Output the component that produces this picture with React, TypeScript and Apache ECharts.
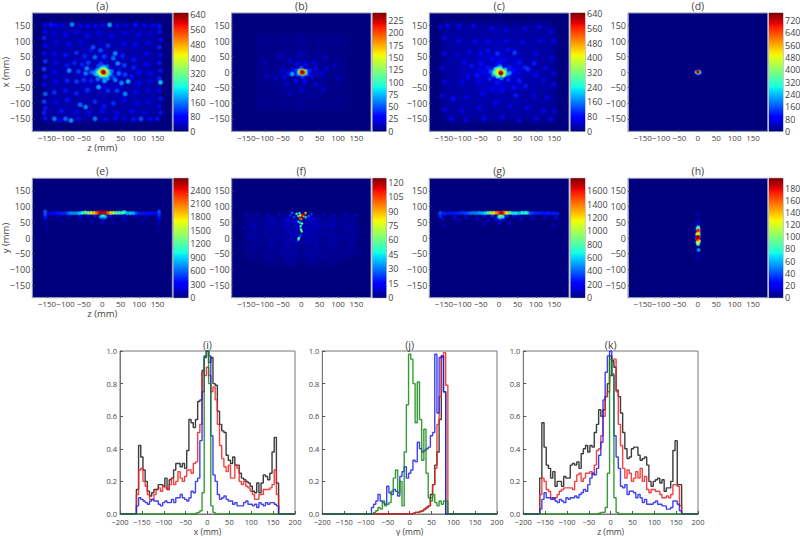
import React, { useEffect, useRef } from "react";
import * as echarts from "echarts";

type Cell = [number, number, number];

const posTicks = [-150, -100, -50, 0, 50, 100, 150];
const histXTicks = [-200, -150, -100, -50, 0, 50, 100, 150, 200];
const histYTicks = [0, 0.2, 0.4, 0.6, 0.8, 1.0];

const barTicksA = [0, 80, 160, 240, 320, 400, 480, 560, 640];
const barTicksB = [0, 25, 50, 75, 100, 125, 150, 175, 200, 225];
const barTicksC = [0, 80, 160, 240, 320, 400, 480, 560, 640];
const barTicksD = [0, 80, 160, 240, 320, 400, 480, 560, 640, 720];
const barTicksE = [0, 300, 600, 900, 1200, 1500, 1800, 2100, 2400];
const barTicksF = [0, 15, 30, 45, 60, 75, 90, 105, 120];
const barTicksG = [0, 200, 400, 600, 800, 1000, 1200, 1400, 1600];
const barTicksH = [0, 20, 40, 60, 80, 100, 120, 140, 160, 180];

const floorA: Cell[] = [
  [-130,130,22],[-90,130,26],[-45,130,24],[0,130,26],[45,130,24],[90,130,26],[130,130,22],
  [-130,90,24],[-90,90,26],[-45,90,28],[0,90,32],[45,90,28],[90,90,26],[130,90,24],
  [-130,45,24],[-90,45,28],[-45,45,32],[0,45,38],[45,45,34],[90,45,28],[130,45,24],
  [-130,0,26],[-90,0,30],[-45,0,40],[0,0,56],[45,0,42],[90,0,30],[130,0,26],
  [-130,-45,24],[-90,-45,28],[-45,-45,34],[0,-45,38],[45,-45,36],[90,-45,28],[130,-45,24],
  [-130,-90,24],[-90,-90,26],[-45,-90,28],[0,-90,30],[45,-90,28],[90,-90,26],[130,-90,24],
  [-130,-130,22],[-90,-130,26],[-45,-130,24],[0,-130,24],[45,-130,24],[90,-130,24],[130,-130,22],
];
const cellsA: Cell[] = [
  [3,0,640],[0,2,500],[6,-2,500],[-2,-3,420],[8,3,400],[3,6,400],[3,-7,380],[-6,2,340],[12,0,330],[-10,-2,290],
  [7,10,270],[-3,10,240],[10,-10,270],[-5,-10,250],[16,4,220],[-14,5,200],[18,-6,220],[-16,-7,200],[3,16,200],[2,-16,190],
  [-22,-2,170],[25,2,150],[12,18,150],[-10,18,130],[14,-20,180],[-12,-22,150],[-30,0,130],[-4,26,120],[6,-28,190],[28,-14,120],
  [-155,150,80],[-140,152,90],[-125,150,70],[-108,150,60],[-82,153,170],[-60,150,70],[-40,148,60],[-20,150,80],[0,150,60],[20,152,190],[40,150,70],[65,150,60],[90,152,90],[115,150,70],[140,150,80],[155,148,90],
  [-155,-148,90],[-130,-150,160],[-115,-155,80],[-100,-150,150],[-85,-155,180],[-65,-150,80],[-20,-150,160],[10,-152,70],[35,-148,80],[60,-150,60],[85,-152,90],[105,-150,130],[130,-150,80],[150,-150,90],
  [-155,130,80],[-158,110,100],[-155,85,70],[-158,60,80],[-155,35,110],[-158,10,120],[-155,-15,90],[-158,-40,80],[-155,-70,140],[-158,-95,120],[-155,-115,90],[-158,-130,100],
  [155,130,90],[158,105,80],[155,80,100],[158,55,80],[155,30,90],[158,5,90],[155,-20,100],[158,-33,210],[155,-60,80],[158,-85,90],[155,-110,80],[158,-130,90],
  [-130,125,55],[-100,120,70],[-70,128,60],[-40,118,80],[-10,125,60],[25,118,70],[60,125,60],[100,120,70],[130,125,55],
  [-125,95,60],[-90,90,80],[-60,95,55],[-25,80,130],[-5,70,130],[-30,70,90],[15,85,110],[35,60,170],[60,90,70],[90,88,80],[125,95,60],
  [-130,60,70],[-100,55,90],[-70,62,110],[-48,50,100],[-20,48,150],[5,50,120],[30,45,150],[55,52,100],[85,40,90],[120,60,70],
  [-125,30,80],[-95,22,90],[-75,30,100],[-55,25,100],[-38,30,120],[42,28,170],[60,22,120],[85,15,100],[120,25,70],
  [-130,0,80],[-90,5,170],[-65,2,120],[-45,-4,160],[-42,12,170],[45,-4,150],[62,-8,120],[80,-15,90],[100,0,80],[130,-5,70],
  [-125,-30,70],[-95,-28,100],[-70,-30,120],[-50,-25,110],[-30,-28,100],[35,-25,160],[52,-35,170],[70,-30,200],[100,-35,80],[130,-30,60],
  [-130,-65,110],[-100,-60,90],[-70,-68,100],[-40,-58,110],[-10,-48,190],[15,-60,110],[40,-60,120],[62,-70,170],[90,-65,80],[125,-60,60],
  [-125,-95,80],[-95,-90,90],[-60,-105,150],[-45,-112,170],[-20,-95,110],[5,-110,90],[30,-100,110],[60,-90,80],[95,-100,70],[125,-95,60],
  [-110,-125,90],[-70,-128,70],[-35,-130,80],[0,-125,70],[40,-130,60],[80,-125,70],[115,-130,60],
];

const floorB: Cell[] = [
  [-100,100,3],[-50,100,3],[0,100,4],[50,100,3],[100,100,3],
  [-100,50,3],[-50,50,5],[0,50,7],[50,50,5],[100,50,3],
  [-100,0,4],[-50,0,7],[0,0,14],[50,0,7],[100,0,4],
  [-100,-50,3],[-50,-50,5],[0,-50,7],[50,-50,5],[100,-50,3],
  [-100,-100,3],[-50,-100,3],[0,-100,4],[50,-100,3],[100,-100,3],
];
const cellsB: Cell[] = [
  [2,0,235],[6,-2,195],[-2,-1,170],[2,3,150],[8,2,135],[-4,3,105],[3,-5,110],[10,-3,90],[-6,-3,75],[-25,-6,70],[14,4,55],[-12,5,45],[-10,-8,40],[16,-8,40],[0,12,50],[3,-14,40],
  [-24,8,26],[25,5,32],[30,-12,26],[-35,-4,28],[-45,-15,22],[-50,5,20],[40,10,24],[55,-5,20],[15,25,26],[-10,28,24],[10,-30,28],[-15,-28,26],[-70,-20,18],[70,12,18],
  [-30,35,18],[35,30,22],[-40,-38,16],[38,-38,20],[60,-55,16],[-60,50,15],[65,45,14],[-5,55,14],[0,-60,16],[30,-75,14],[-30,-70,14],[90,20,13],[-95,-15,14],[100,-20,12],[-100,30,12],
];

const floorC: Cell[] = [
  [-130,130,20],[-90,130,22],[-45,130,22],[0,130,24],[45,130,22],[90,130,22],[130,130,20],
  [-130,90,22],[-90,90,24],[-45,90,28],[0,90,32],[45,90,28],[90,90,24],[130,90,22],
  [-130,45,22],[-90,45,28],[-45,45,38],[0,45,46],[45,45,40],[90,45,28],[130,45,22],
  [-130,0,22],[-90,0,32],[-45,0,52],[0,0,76],[45,0,54],[90,0,32],[130,0,22],
  [-130,-45,22],[-90,-45,28],[-45,-45,38],[0,-45,48],[45,-45,40],[90,-45,28],[130,-45,22],
  [-130,-90,22],[-90,-90,24],[-45,-90,28],[0,-90,30],[45,-90,28],[90,-90,24],[130,-90,20],
  [-130,-130,20],[-90,-130,22],[-45,-130,24],[0,-130,22],[45,-130,22],[90,-130,22],[130,-130,20],
];
const cellsC: Cell[] = [
  [5,-3,640],[3,0,480],[8,2,420],[-3,3,380],[10,-6,390],[-6,-4,350],[0,-8,340],[14,0,310],[-12,0,290],[4,10,290],[-4,10,270],[12,-10,280],[-4,-13,250],[16,7,210],[-10,9,210],[-15,-8,190],[20,-6,200],[2,17,170],[6,-18,170],[-22,2,140],[28,-3,170],
  [-30,15,90],[28,16,95],[-25,-22,100],[25,-24,105],[-38,0,80],[40,5,85],[0,30,85],[-6,-32,90],[15,40,80],[-20,42,80],[42,62,120],[-5,60,110],[-30,68,85],[25,72,85],[-50,28,85],[55,30,90],[70,15,100],[78,10,110],[95,28,95],[-60,-10,90],[-55,-30,75],[55,-28,95],[72,-45,90],[40,-50,85],[-20,-55,80],[8,-60,75],[45,-75,95],[-45,-70,75],[-75,20,90],[-95,30,80],[-85,-15,70],[-100,-30,65],[100,-10,70],[120,-25,60],[125,15,60],
  [-160,145,55],[-140,150,70],[-110,150,80],[-70,148,65],[-20,140,70],[20,135,60],[70,140,55],[110,145,70],[140,130,60],[-150,110,60],[-110,100,65],[-65,100,65],[-30,95,70],[20,100,80],[65,95,65],[110,100,60],[150,100,60],
  [-150,60,60],[-115,55,55],[-80,65,65],[-50,60,75],[100,60,70],[145,45,55],[-155,15,55],[150,-5,55],[-150,-30,60],[150,-40,60],[-155,-75,60],[-125,-85,85],[-90,-80,60],[95,-75,60],[130,-80,60],[-150,-120,60],[-100,-125,65],[-55,-115,65],[-10,-100,70],[30,-110,65],[75,-115,70],[120,-125,60],[150,-125,55],[-130,-150,65],[-90,-155,60],[-40,-150,70],[10,-145,65],[55,-155,60],[100,-150,60],[140,-152,60],
];

const cellsD: Cell[] = [
  [0,1,770],[3,1,520],[-3,0,430],[1,-3,260],[6,-2,170],[-5,2,90],[2,5,80],[-2,-6,70],[10,-2,50],[-9,-1,40],
];

const cellsE: Cell[] = [
  [0,81,2600],[-7,81,2450],[7,81,2500],[14,80,2150],[-14,80,2150],[-22,80,1850],[22,80,1800],[-30,80,1550],[30,80,1500],[-38,80,1350],[38,80,1200],[-46,81,1250],[46,80,1150],[-54,80,1000],[54,80,1050],[-62,79,850],[60,82,1050],[68,79,800],[76,79,850],[84,79,800],[92,79,500],[-70,79,700],[-78,79,700],[-86,79,700],[-94,79,550],
  [2,72,1000],[-4,68,800],[8,68,800],[3,64,500],[-20,72,400],[22,72,380],[-40,72,250],[40,72,240],
  [-102,79,420],[-110,78,400],[-118,79,380],[-126,79,360],[-134,79,340],[-142,78,320],[102,78,400],[110,78,380],[118,79,360],[126,79,370],[134,78,350],[142,78,330],
  [-155,84,560],[-155,76,520],[-155,68,380],[-155,60,240],[154,84,520],[154,76,480],[154,68,360],[154,60,230],[-150,45,120],[150,45,120],[-150,25,70],[150,25,70],
  [-120,70,170],[-90,70,190],[-60,68,190],[60,68,190],[90,70,190],[120,70,170],[-60,55,130],[0,52,170],[60,55,120],[-110,55,100],[110,55,100],[-30,50,120],[30,50,120],
];

const floorF: Cell[] = [
  [-130,45,3],[-80,45,4],[-30,45,6],[30,45,6],[80,45,4],[130,45,3],
  [-130,5,3],[-80,5,3],[-30,5,5],[30,5,5],[80,5,3],[130,5,3],
  [-130,-35,2],[-80,-35,3],[-30,-35,4],[30,-35,4],[80,-35,3],[130,-35,2],
  [-80,-60,2],[-30,-60,3],[30,-60,3],[80,-60,2],
];
const cellsF: Cell[] = [
  [8,76,118],[3,73,112],[-2,72,80],[6,69,95],[-4,62,105],[0,60,100],[-5,79,45],[11,79,70],[-13,77,48],[-8,70,50],[12,66,42],[-8,52,40],[-3,48,40],[2,46,55],[-2,38,50],[-1,27,62],[1,21,55],[-5,3,28],[-7,-1,55],[-8,-5,42],[-1,9,22],[-3,33,24],
  [-25,80,28],[-30,72,20],[-20,66,24],[-38,55,15],[-22,52,14],[20,70,28],[28,76,22],[22,58,14],[35,62,13],[-12,30,16],[10,30,15],[-16,12,15],[12,15,12],[-12,-12,14],[8,-14,12],
  [-60,75,12],[-90,72,11],[-120,75,11],[-150,76,12],[60,75,11],[90,72,10],[120,75,10],[150,72,10],[-50,40,10],[-80,45,9],[-130,40,9],[-155,30,9],[50,40,10],[85,42,9],[130,42,8],[-60,10,8],[-100,15,8],[-140,0,8],[60,15,8],[105,10,8],[145,5,7],[-40,-20,8],[-85,-25,7],[-130,-30,7],[40,-25,8],[90,-20,7],[135,-25,7],[-50,-55,7],[-15,-50,8],[20,-55,7],[60,-60,7],[-100,-60,6],
];

const cellsG: Cell[] = [
  [6,80,1720],[10,81,1500],[0,80,1500],[-6,80,1350],[16,80,1250],[-14,80,1180],[22,80,1050],[-22,80,1000],[-30,80,800],[-38,79,620],[30,80,800],[38,79,640],[46,79,650],[54,79,550],[62,80,680],[70,80,700],[76,80,640],[-46,79,520],[-54,80,500],[-62,79,460],[-70,80,440],[-78,79,420],
  [5,72,850],[0,68,700],[10,68,650],[3,63,420],[-18,72,300],[22,72,280],[-40,70,180],[40,70,170],[-8,60,200],[14,60,190],
  [-86,79,340],[-94,79,320],[-102,80,300],[-110,79,280],[-118,79,270],[-126,79,250],[-134,79,250],[-142,78,250],[-150,78,270],[-160,80,360],[84,79,360],[92,79,300],[100,79,280],[108,79,270],[116,79,250],[124,79,250],[132,79,270],[140,78,250],[148,78,270],[158,78,270],
  [-160,70,290],[-155,60,170],[-120,66,160],[-90,66,160],[-60,62,160],[-30,55,140],[-110,55,110],[60,62,140],[90,64,140],[125,66,130],[155,65,170],[-40,45,90],[30,45,90],[0,48,130],[-150,40,80],[150,40,80],
];

const cellsH: Cell[] = [
  [0,4,196],[-2,-1,185],[3,2,175],[1,24,175],[0,-5,150],[3,-10,125],[-1,-14,110],[1,-18,85],[2,18,130],[-2,12,110],[2,10,120],[-2,-3,160],[2,28,95],[1,34,80],[-1,30,70],[2,-38,55],[0,-20,60],
  [-1,44,18],[2,55,12],[1,75,8],[0,-48,14],[1,-65,8],[6,8,25],[-6,5,25],[6,-15,18],[-6,-12,15],[6,25,15],[-6,25,12],
];

const posXBins = [-200,-165,-160,-155,-150,-145,-140,-135,-130,-125,-120,-115,-110,-105,-100,-95,-90,-85,-80,-75,-70,-65,-60,-55,-50,-45,-40,-35,-30,-25,-20,-15,-10,-5,0,5,10,15,20,25,30,35,40,45,50,55,60,65,70,75,80,85,90,95,100,105,110,115,120,125,130,135,140,145,150,155,160,165,200];
const posYBins = [-200,-90,-85,-80,-75,-70,-65,-60,-55,-50,-45,-40,-35,-30,-25,-20,-15,-10,-5,0,5,10,15,20,25,30,35,40,45,50,55,60,65,70,75,80,85,90,200];

const blackI = [0,0,.15,.42,.35,.27,.2,.14,.11,.13,.15,.15,.18,.18,.17,.22,.15,.21,.22,.27,.31,.31,.29,.31,.28,.39,.58,.56,.53,.58,.69,.7,.88,.96,1,.93,.96,.8,.79,.63,.55,.51,.5,.36,.33,.31,.35,.3,.3,.25,.22,.21,.2,.19,.17,.14,.13,.19,.13,.19,.24,.23,.21,.25,.38,.47,.19,0,0];
const redI = [0,0,.12,.27,.28,.2,.17,.12,.09,.09,.12,.15,.16,.14,.17,.16,.15,.18,.22,.18,.2,.26,.22,.2,.23,.27,.27,.25,.31,.32,.5,.55,.87,.85,.9,.85,.75,.78,.7,.55,.42,.34,.29,.26,.3,.22,.22,.3,.28,.2,.18,.2,.17,.16,.14,.12,.09,.09,.12,.12,.15,.15,.15,.16,.18,.27,.12,0,0];
const blueI = [0,0,.05,.1,.09,.08,.07,.06,.08,.09,.08,.08,.06,.05,.07,.08,.07,.07,.09,.07,.1,.1,.12,.1,.09,.08,.1,.14,.13,.2,.22,.45,.75,.97,1,.97,.48,.24,.2,.12,.09,.1,.11,.09,.08,.08,.06,.07,.05,.05,.05,.07,.08,.06,.06,.05,.06,.04,.07,.06,.05,.07,.06,.07,.07,.06,.05,0,0];
const greenI = [0,0,0,0,0,0,0,0,0,0,0,0,0,0,0,0,0,0,0,0,0,0,0,0,0,0,0,0,0,.005,.01,.02,.13,.97,1,.8,.05,.01,0,0,0,0,0,0,0,0,0,0,0,0,0,0,0,0,0,0,0,0,0,0,0,0,0,0,0,0,0,0,0];

const blackJ = [0,0,0,0,0,0,0,0,0,0,0,0,0,0,0,0,0,0,0,.002,.002,.005,.01,.01,.015,.02,.03,.04,.05,.12,.18,.3,.38,.58,.97,.75,0,0,0];
const redJ = [0,0,0,0,0,0,0,0,0,0,0,0,0,0,0,0,0,0,0,.002,.002,.005,.01,.01,.015,.02,.03,.04,.05,.1,.18,.28,.55,.72,.96,.99,.79,0,0];
const blueJ = [0,0,.04,.06,.08,.12,.08,.07,.06,.17,.13,.12,.15,.14,.11,.23,.26,.29,.22,.25,.27,.33,.32,.44,.4,.38,.39,.4,.41,.48,.5,.98,.62,.96,.97,.75,0,0,0];
const greenJ = [0,0,0,.01,.02,.04,.03,.08,.05,.06,.07,.14,.22,.27,.13,.2,.05,.38,.67,.98,.95,.8,.56,.81,.58,.33,.52,.25,.1,.08,.12,.07,.05,.08,.06,.08,.08,0,0];

const blackK = [0,0,.22,.56,.41,.3,.28,.22,.26,.17,.2,.2,.17,.23,.22,.22,.3,.31,.3,.32,.28,.37,.4,.42,.38,.42,.41,.5,.55,.64,.6,.64,.72,.8,.97,.94,.9,.76,.72,.62,.5,.4,.34,.35,.4,.41,.41,.36,.33,.34,.35,.3,.2,.17,.2,.21,.22,.19,.21,.14,.16,.16,.2,.39,.45,.18,.18,0,0];
const redK = [0,0,.12,.22,.2,.15,.14,.1,.09,.1,.12,.14,.15,.16,.16,.16,.16,.15,.2,.24,.25,.2,.22,.25,.25,.26,.24,.3,.39,.4,.48,.6,.72,.75,.85,.95,.95,.75,.55,.42,.28,.22,.27,.25,.2,.22,.26,.22,.28,.2,.23,.15,.13,.15,.15,.14,.14,.12,.1,.1,.11,.1,.12,.18,.18,.17,.05,0,0];
const blueK = [0,0,.03,.09,.13,.1,.1,.09,.1,.08,.07,.09,.08,.07,.1,.09,.1,.1,.11,.1,.12,.13,.15,.14,.18,.22,.25,.24,.28,.36,.44,.7,.87,.97,1,.85,.48,.35,.28,.17,.16,.18,.12,.14,.14,.13,.1,.12,.1,.07,.09,.06,.06,.06,.07,.08,.06,.06,.05,.05,.03,.03,.04,.08,.08,.06,.02,0,0];
const greenK = [0,0,0,0,0,0,0,0,0,0,0,0,0,0,0,0,0,0,0,0,0,0,0,0,0,0,0,0,0,.005,.01,.01,.04,.25,.95,.86,.1,.01,0,0,0,0,0,0,0,0,0,0,0,0,0,0,0,0,0,0,0,0,0,0,0,0,0,0,0,0,0,0,0];

const FONT = "'Open Sans', sans-serif";
const TEXT = "#444";
const FRAME = "#8f97b0";

const clamp = (v: number) => Math.max(0, Math.min(1, v));
function jet(t: number): [number, number, number] {
  const r = t < 0.35 ? 0 : t < 0.66 ? (t - 0.35) / 0.31 : t < 0.89 ? 1 : 1 - ((t - 0.89) / 0.11) * 0.5;
  const g = t < 0.125 ? 0 : t < 0.375 ? (t - 0.125) / 0.25 : t < 0.64 ? 1 : t < 0.91 ? 1 - (t - 0.64) / 0.27 : 0;
  const b = t < 0.11 ? 0.5 + (t / 0.11) * 0.5 : t < 0.34 ? 1 : t < 0.65 ? 1 - (t - 0.34) / 0.31 : 0;
  return [Math.round(clamp(r) * 255), Math.round(clamp(g) * 255), Math.round(clamp(b) * 255)];
}
const jetStops = [0, 0.11, 0.125, 0.34, 0.35, 0.375, 0.5, 0.64, 0.66, 0.89, 0.91, 1].map((o) => {
  const [r, g, b] = jet(o);
  return { offset: 1 - o, color: `rgb(${r},${g},${b})` };
}).reverse();

const minusFmt = (v: number) => String(v).replace("-", "\u2212");

type Panel = {
  id: string; cells: Cell[]; floor?: Cell[]; left: number; top: number; width: number; height: number;
  barLeft: number; barWidth: number; max: number; barTicks: number[]; mm: number;
  xName?: string; yName?: string;
};
const ROW1 = { top: 13, height: 118.3 };
const ROW2 = { top: 178.3, height: 119.4 };
const panels: Panel[] = [
  { id: "(a)", cells: cellsA, floor: floorA, left: 32.3, width: 140, ...ROW1, barLeft: 173.7, barWidth: 14.5, max: 651, barTicks: barTicksA, mm: 18, xName: "z (mm)", yName: "x (mm)" },
  { id: "(b)", cells: cellsB, floor: floorB, left: 231.7, width: 139.3, ...ROW1, barLeft: 372.7, barWidth: 13.5, max: 240, barTicks: barTicksB, mm: 18 },
  { id: "(c)", cells: cellsC, floor: floorC, left: 429.3, width: 139.7, ...ROW1, barLeft: 570.7, barWidth: 14.3, max: 645, barTicks: barTicksC, mm: 18 },
  { id: "(d)", cells: cellsD, left: 628, width: 139.7, ...ROW1, barLeft: 769, barWidth: 14, max: 770, barTicks: barTicksD, mm: 14 },
  { id: "(e)", cells: cellsE, left: 32.3, width: 140, ...ROW2, barLeft: 173.7, barWidth: 14.5, max: 2662, barTicks: barTicksE, mm: 15, xName: "z (mm)", yName: "y (mm)" },
  { id: "(f)", cells: cellsF, floor: floorF, left: 231.7, width: 139.3, ...ROW2, barLeft: 372.7, barWidth: 13.5, max: 124, barTicks: barTicksF, mm: 10 },
  { id: "(g)", cells: cellsG, left: 429.3, width: 139.7, ...ROW2, barLeft: 570.7, barWidth: 14.3, max: 1785, barTicks: barTicksG, mm: 15 },
  { id: "(h)", cells: cellsH, left: 628, width: 139.7, ...ROW2, barLeft: 769, barWidth: 14, max: 196, barTicks: barTicksH, mm: 14 },
];
const FLOOR_MM = 70;

type Hist = {
  id: string; left: number; width: number; bins: number[]; xName: string;
  black: number[]; red: number[]; blue: number[]; green: number[];
};
const HIST_TOP = 351;
const HIST_HEIGHT = 163;
const hists: Hist[] = [
  { id: "(i)", left: 120, width: 175, bins: posXBins, xName: "x (mm)", black: blackI, red: redI, blue: blueI, green: greenI },
  { id: "(j)", left: 322.3, width: 174.7, bins: posYBins, xName: "y (mm)", black: blackJ, red: redJ, blue: blueJ, green: greenJ },
  { id: "(k)", left: 523.3, width: 174.7, bins: posXBins, xName: "z (mm)", black: blackK, red: redK, blue: blueK, green: greenK },
];

function blobRender(max: number, mm: number) {
  return (_p: any, api: any) => {
    const pt = api.coord([api.value(0), api.value(1)]);
    const sz = api.size([mm, mm]);
    const [r, g, b] = jet(api.value(2) / max);
    return {
      type: "circle",
      shape: { cx: pt[0], cy: pt[1], r: sz[0] / 2 },
      style: {
        fill: new echarts.graphic.RadialGradient(0.5, 0.5, 0.5, [
          { offset: 0, color: `rgba(${r},${g},${b},1)` },
          { offset: 0.4, color: `rgba(${r},${g},${b},0.9)` },
          { offset: 1, color: `rgba(${r},${g},${b},0)` },
        ]),
      },
    };
  };
}
function barRender(_p: any, api: any) {
  const a = api.coord([0, api.value(1)]);
  const b = api.coord([1, api.value(0)]);
  return {
    type: "rect",
    shape: { x: a[0], y: a[1], width: b[0] - a[0], height: b[1] - a[1] },
    style: { fill: new echarts.graphic.LinearGradient(0, 0, 0, 1, jetStops) },
  };
}

function buildOption() {
  const grid: any[] = [], xAxis: any[] = [], yAxis: any[] = [], series: any[] = [], title: any[] = [];
  const label = { color: TEXT, fontFamily: FONT, fontSize: 9, margin: 2, showMinLabel: true, showMaxLabel: true, hideOverlap: false };
  const nameStyle = { color: TEXT, fontFamily: FONT, fontSize: 9.5 };
  const titleStyle = { color: TEXT, fontFamily: FONT, fontSize: 10.5, fontWeight: "normal" };
  const line = (c: string) => ({ show: true, onZero: false, lineStyle: { color: c, width: 1 } });
  panels.forEach((p) => {
    const g = grid.length;
    grid.push({ outerBoundsMode: "none", left: p.left, top: p.top, width: p.width, height: p.height, show: true, backgroundColor: "#00007f", borderColor: FRAME, borderWidth: 1 });
    xAxis.push({
      gridIndex: g, type: "value", min: -190, max: 190, position: "bottom", splitLine: { show: false }, axisLine: line(FRAME),
      axisTick: { inside: true, length: 2, lineStyle: { color: "#334" }, customValues: posTicks },
      axisLabel: { ...label, fontSize: 8, margin: 2, formatter: minusFmt, customValues: posTicks },
      name: p.xName, nameLocation: "middle", nameGap: 11, nameMoveOverlap: false, nameTextStyle: nameStyle,
    });
    yAxis.push({
      gridIndex: g, type: "value", min: -190, max: 190, position: "left", splitLine: { show: false }, axisLine: line(FRAME),
      axisTick: { inside: true, length: 2, lineStyle: { color: "#334" }, customValues: posTicks },
      axisLabel: { ...label, formatter: minusFmt, customValues: posTicks },
      name: p.yName, nameLocation: "middle", nameGap: 22, nameMoveOverlap: false, nameTextStyle: nameStyle,
    });
    if (p.floor) {
      series.push({
        type: "custom", coordinateSystem: "cartesian2d", xAxisIndex: g, yAxisIndex: g, silent: true, clip: true,
        encode: { x: 0, y: 1 }, renderItem: blobRender(p.max, FLOOR_MM), data: p.floor,
      });
    }
    series.push({
      type: "custom", coordinateSystem: "cartesian2d", xAxisIndex: g, yAxisIndex: g, silent: true, clip: true,
      encode: { x: 0, y: 1 }, renderItem: blobRender(p.max, p.mm),
      data: [...p.cells].sort((m, n) => m[2] - n[2]),
    });
    title.push({ text: p.id, left: p.left + p.width / 2, top: p.top - 13, textAlign: "center", padding: 0, textStyle: titleStyle });

    const b = grid.length;
    grid.push({ outerBoundsMode: "none", left: p.barLeft, top: p.top, width: p.barWidth, height: p.height, show: true, borderColor: FRAME, borderWidth: 1 });
    xAxis.push({ gridIndex: b, type: "value", min: 0, max: 1, show: false });
    yAxis.push({
      gridIndex: b, type: "value", min: 0, max: p.max, position: "right", splitLine: { show: false }, axisLine: { show: false },
      axisTick: { show: false, customValues: p.barTicks },
      axisLabel: { ...label, margin: 2, formatter: (v: number) => String(v), customValues: p.barTicks },
    });
    series.push({ type: "custom", coordinateSystem: "cartesian2d", xAxisIndex: b, yAxisIndex: b, silent: true, clip: false, encode: { y: [0, 1] }, renderItem: barRender, data: [[0, p.max]] });
  });
  hists.forEach((h) => {
    const g = grid.length;
    grid.push({ outerBoundsMode: "none", left: h.left, top: HIST_TOP, width: h.width, height: HIST_HEIGHT, show: true, backgroundColor: "#fff", borderColor: "#777", borderWidth: 1 });
    xAxis.push({
      gridIndex: g, type: "value", min: -200, max: 200, interval: 50, splitLine: { show: false }, axisLine: line("#777"),
      axisTick: { inside: true, length: 3, lineStyle: { color: "#555" } },
      axisLabel: { ...label, fontSize: 7.5, margin: 4, formatter: minusFmt, customValues: histXTicks },
      name: h.xName, nameLocation: "middle", nameGap: 12.5, nameMoveOverlap: false, nameTextStyle: { ...nameStyle, fontSize: 8.5 },
    });
    yAxis.push({
      gridIndex: g, type: "value", min: 0, max: 1, splitLine: { show: false }, axisLine: line("#777"),
      axisTick: { inside: true, length: 3, lineStyle: { color: "#555" }, customValues: histYTicks },
      axisLabel: { ...label, fontSize: 7.5, margin: 3, formatter: (v: number) => v.toFixed(1), customValues: histYTicks },
    });
    ([["black", h.black, "#1a1a1a"], ["red", h.red, "#f02020"], ["blue", h.blue, "#2020f0"], ["green", h.green, "#138a13"]] as [string, number[], string][]).forEach(([name, vals, color]) => {
      series.push({
        type: "line", name, xAxisIndex: g, yAxisIndex: g, step: "middle", showSymbol: false, symbol: "none", silent: true,
        lineStyle: { color, width: 1.4, opacity: 0.85 }, clip: true,
        data: h.bins.map((b, i) => [b, vals[i]]),
      });
    });
    title.push({ text: h.id, left: h.left + h.width / 2, top: HIST_TOP - 12, textAlign: "center", padding: 0, textStyle: titleStyle });
  });
  return { animation: false, backgroundColor: "#fff", title, grid, xAxis, yAxis, series };
}

export default function App() {
  const ref = useRef<HTMLDivElement>(null);
  useEffect(() => {
    document.body.style.margin = "0";
    const chart = echarts.init(ref.current!, undefined, { renderer: "svg", width: 800, height: 536 });
    chart.setOption(buildOption() as any);
    return () => chart.dispose();
  }, []);
  return <div ref={ref} style={{ width: 800, height: 536 }} />;
}
